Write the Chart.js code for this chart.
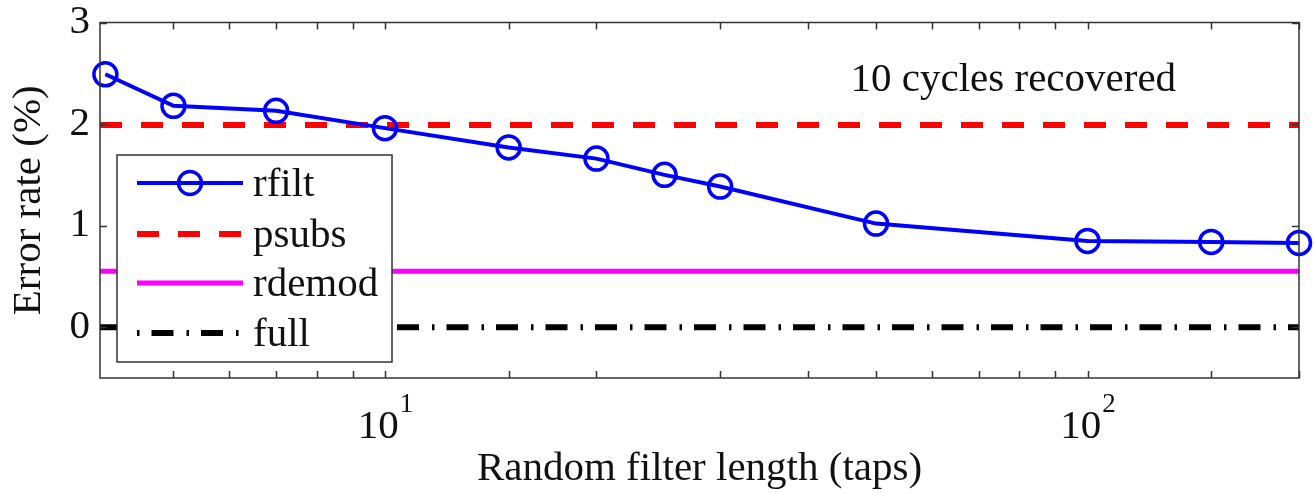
<!DOCTYPE html>
<html>
<head>
<meta charset="utf-8">
<title>Error rate vs random filter length</title>
<script src="https://cdn.jsdelivr.net/npm/chart.js@4.4.1/dist/chart.umd.min.js"></script>
<style>
  html, body { margin: 0; padding: 0; background: #fff; }
  #wrap { width: 1314px; height: 494px; }
</style>
</head>
<body>
<div id="wrap"><canvas id="errChart" width="1314" height="494"></canvas></div>
<script>
/* ─── data ─── */
const filterLengths = [4, 5, 7, 10, 15, 20, 25, 30, 50, 100, 150, 200];
const rfiltRate     = [2.49, 2.18, 2.13, 1.96, 1.77, 1.66, 1.50, 1.385, 1.02, 0.85, 0.84, 0.83];
const psubsRate  = 1.99;
const rdemodRate = 0.55;
const fullRate   = 0;

const xRange     = [3.93, 200];
const yRange     = [-0.5, 3];
const yTicks     = [0, 1, 2, 3];
const xDecades   = [10, 100];
const xDecadeExp = ["1", "2"];
const seriesNames = ["rfilt", "psubs", "rdemod", "full"];
const noteText = "10 cycles recovered";
const notePos  = [46, 2.33];

const SERIF = "'Liberation Serif', 'Times New Roman', serif";
const INK = "#111";

function flat(y) {
  return xRange.map(x => ({ x: x, y: y }));
}

/* ─── frame, inner ticks, decade labels, note, legend ─── */
const matlabFrame = {
  id: "matlabFrame",
  afterDatasetsDraw(chart) {
    const { ctx, chartArea: a, scales: { x, y } } = chart;
    ctx.save();

    // box
    ctx.strokeStyle = "#333";
    ctx.lineWidth = 1.5;
    ctx.strokeRect(a.left, a.top, a.right - a.left, a.bottom - a.top);

    // inner tick marks
    const tl = 7;
    ctx.beginPath();
    x.ticks.forEach(t => {
      if (t.value <= xRange[0] + 0.01 || t.value > xRange[1]) return;
      const px = Math.round(x.getPixelForValue(t.value)) + 0.5;
      ctx.moveTo(px, a.bottom); ctx.lineTo(px, a.bottom - tl);
      ctx.moveTo(px, a.top);    ctx.lineTo(px, a.top + tl);
    });
    yTicks.forEach(v => {
      const py = Math.round(y.getPixelForValue(v)) + 0.5;
      ctx.moveTo(a.left, py);  ctx.lineTo(a.left + tl, py);
      ctx.moveTo(a.right, py); ctx.lineTo(a.right - tl, py);
    });
    ctx.stroke();

    // decade labels 10^n
    ctx.fillStyle = INK;
    ctx.textBaseline = "alphabetic";
    ctx.textAlign = "left";
    xDecades.forEach((v, i) => {
      const px = x.getPixelForValue(v);
      ctx.font = "41px " + SERIF;
      const wBase = ctx.measureText("10").width;
      ctx.font = "27px " + SERIF;
      const wExp = ctx.measureText(xDecadeExp[i]).width;
      const x0 = px - (wBase + wExp) / 2;
      ctx.font = "41px " + SERIF;
      ctx.fillText("10", x0, a.bottom + 60);
      ctx.font = "27px " + SERIF;
      ctx.fillText(xDecadeExp[i], x0 + wBase + 1, a.bottom + 34);
    });

    // note
    ctx.font = "41px " + SERIF;
    ctx.fillText(noteText, x.getPixelForValue(notePos[0]), y.getPixelForValue(notePos[1]));

    // legend
    const lg = { x: 117, y: 155, w: 275, h: 207 };
    ctx.fillStyle = "#fff";
    ctx.fillRect(lg.x, lg.y, lg.w, lg.h);
    ctx.strokeStyle = "#333";
    ctx.lineWidth = 1.5;
    ctx.strokeRect(lg.x, lg.y, lg.w, lg.h);

    const rows = [183, 234, 283, 333];
    const x1 = 137, x2 = 243;
    chart.data.datasets.forEach((ds, i) => {
      const ry = rows[i];
      ctx.save();
      ctx.strokeStyle = ds.borderColor;
      ctx.lineWidth = ds.borderWidth;
      ctx.lineCap = "butt";
      ctx.setLineDash(ds.borderDash || []);
      ctx.lineDashOffset = ds.legendDashOffset || 0;
      ctx.beginPath();
      ctx.moveTo(x1, ry); ctx.lineTo(x2, ry);
      ctx.stroke();
      if (ds.pointRadius > 0) {
        ctx.setLineDash([]);
        ctx.lineWidth = ds.pointBorderWidth;
        ctx.beginPath();
        ctx.arc((x1 + x2) / 2, ry, ds.pointRadius, 0, Math.PI * 2);
        ctx.stroke();
      }
      ctx.restore();
      ctx.fillStyle = INK;
      ctx.font = "41px " + SERIF;
      ctx.textBaseline = "middle";
      ctx.fillText(ds.label, 253, ry + 2);
    });

    ctx.restore();
  }
};

/* ─── chart ─── */
new Chart(document.getElementById("errChart"), {
  type: "line",
  data: {
    datasets: [
      {
        label: seriesNames[0],
        data: filterLengths.map((v, i) => ({ x: v, y: rfiltRate[i] })),
        borderColor: "#0000ff", borderWidth: 4,
        pointRadius: 11.5, pointBorderWidth: 3.5,
        pointBackgroundColor: "rgba(0,0,0,0)", pointBorderColor: "#0000ff",
        tension: 0, clip: false,
      },
      {
        label: seriesNames[1],
        data: flat(psubsRate),
        borderColor: "#ff0000", borderWidth: 6,
        borderDash: [22, 19], borderCapStyle: "butt",
        pointRadius: 0,
      },
      {
        label: seriesNames[2],
        data: flat(rdemodRate),
        borderColor: "#ff00ff", borderWidth: 5,
        pointRadius: 0,
      },
      {
        label: seriesNames[3],
        data: flat(fullRate),
        borderColor: "#000000", borderWidth: 6,
        borderDash: [22, 13, 2.5, 12], borderCapStyle: "butt",
        legendDashOffset: 35,
        pointRadius: 0,
      },
    ],
  },
  options: {
    responsive: false,
    animation: false,
    devicePixelRatio: 1,
    layout: { padding: { left: 0, right: 8, top: 22.5, bottom: 0 } },
    plugins: { legend: { display: false }, tooltip: { enabled: false } },
    scales: {
      x: {
        type: "logarithmic",
        min: xRange[0], max: xRange[1],
        grid: { display: false, drawTicks: false },
        border: { display: false },
        ticks: { display: false },
        title: {
          display: true, text: "Random filter length (taps)", color: INK,
          font: { family: SERIF, size: 41, lineHeight: 1.2 },
          padding: { top: 0, bottom: 0 },
        },
        afterFit(scale) { scale.height = 116; },
      },
      y: {
        type: "linear",
        min: yRange[0], max: yRange[1],
        grid: { display: false, drawTicks: false },
        border: { display: false },
        afterBuildTicks(scale) { scale.ticks = yTicks.map(v => ({ value: v })); },
        ticks: {
          color: INK, padding: 10,
          font: { family: SERIF, size: 41, lineHeight: 0.5 },
        },
        title: {
          display: true, text: "Error rate (%)", color: INK,
          font: { family: SERIF, size: 41, lineHeight: 1.2 },
          padding: { top: 5, bottom: 0 },
        },
        afterFit(scale) { scale.width = 100; },
      },
    },
  },
  plugins: [matlabFrame],
});
</script>
</body>
</html>
